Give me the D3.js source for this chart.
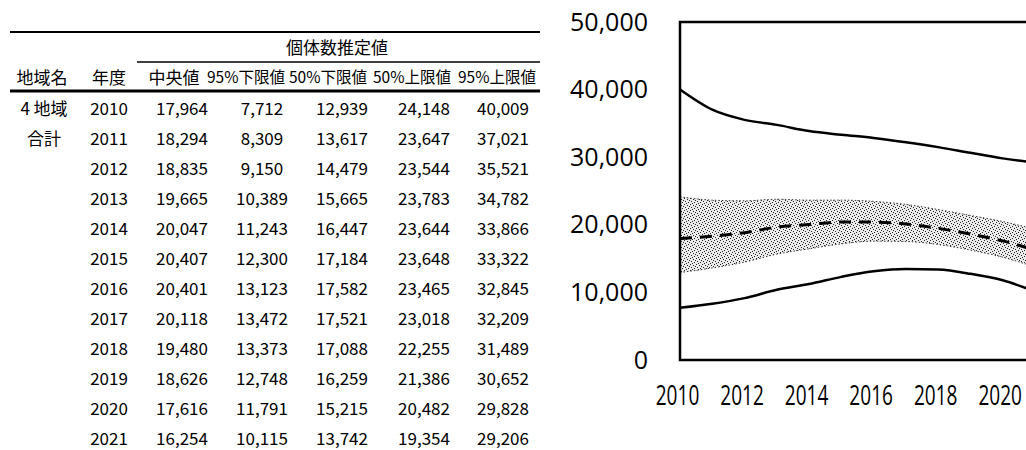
<!DOCTYPE html>
<html><head><meta charset="utf-8">
<script src="https://cdn.jsdelivr.net/npm/d3@7"></script>
<style>body{margin:0;background:#fff}svg{display:block}</style></head>
<body><svg id="c" width="1026" height="450"></svg>
<script>
const years   = [2010,2011,2012,2013,2014,2015,2016,2017,2018,2019,2020,2021];
const median  = [17964,18294,18835,19665,20047,20407,20401,20118,19480,18626,17616,16254];
const lower95 = [7712,8309,9150,10389,11243,12300,13123,13472,13373,12748,11791,10115];
const lower50 = [12939,13617,14479,15665,16447,17184,17582,17521,17088,16259,15215,13742];
const upper50 = [24148,23647,23544,23783,23644,23648,23465,23018,22255,21386,20482,19354];
const upper95 = [40009,37021,35521,34782,33866,33322,32845,32209,31489,30652,29828,29206];
const yTicks  = [0,10000,20000,30000,40000,50000];
const xTicks  = [2010,2012,2014,2016,2018,2020];
const regionLabel = ["4 地域","合計"];
const groupHeader = "個体数推定値";
const headers = ["地域名","年度","中央値","95%下限値","50%下限値","50%上限値","95%上限値"];

const svg = d3.select("#c");
const fmt = d3.format(",");
const JP = "'Noto Sans CJK JP','Noto Sans',sans-serif";

/* ---------- table ---------- */
const T = svg.append("g");
const line = (x1,x2,y,w)=>T.append("line").attr("x1",x1).attr("x2",x2).attr("y1",y).attr("y2",y)
  .attr("stroke","#000").attr("stroke-width",w);
line(10,540,32,2);
line(137,540,62,1.5);
line(10,540,91,3);

T.append("text").attr("x",337).attr("y",46).attr("text-anchor","middle").attr("dominant-baseline","central")
  .style("font-family",JP).style("font-size","17px").text(groupHeader);

const headX = [42,109,174,246,328,412,497];
T.selectAll("text.h").data(headers).join("text").attr("class","h")
  .attr("x",(d,i)=>headX[i]).attr("y",76).attr("text-anchor","middle").attr("dominant-baseline","central")
  .style("font-family",JP).style("font-size",(d,i)=>i<3?"17px":"15.5px").text(d=>d);

const rowY = d3.scaleLinear().domain([0,1]).range([107,137]);
T.selectAll("text.r").data(regionLabel).join("text").attr("class","r")
  .attr("x",44).attr("y",(d,i)=>rowY(i)).attr("text-anchor","middle").attr("dominant-baseline","central")
  .style("font-family",JP).style("font-size","17px").text(d=>d);

const colX = [109,182,262,342,424,503];
const cols = [years, median, lower95, lower50, upper50, upper95];
cols.forEach((arr,ci)=>{
  T.selectAll("text.c"+ci).data(arr).join("text").attr("class","c"+ci)
    .attr("x",colX[ci]).attr("y",(d,i)=>rowY(i)).attr("text-anchor","middle").attr("dominant-baseline","central")
    .style("font-family",JP).style("font-size","17px")
    .text(d=> ci===0 ? String(d) : fmt(d));
});

/* ---------- chart ---------- */
const x = d3.scaleLinear().domain([2010,2021]).range([680,1035]);
const y = d3.scaleLinear().domain([0,50000]).range([360,22]);

const defs = svg.append("defs");
const pat = defs.append("pattern").attr("id","stip").attr("patternUnits","userSpaceOnUse")
  .attr("width",6).attr("height",6);
pat.append("rect").attr("width",6).attr("height",6).attr("fill","#ececec");
[[0,0],[3,1],[1,3],[4,4],[2,5],[5,2]].forEach(p=>pat.append("rect").attr("x",p[0]).attr("y",p[1])
  .attr("width",1).attr("height",1).attr("fill","#222"));

const idx = d3.range(years.length);
const area = d3.area().x(i=>x(years[i])).y0(i=>y(lower50[i])).y1(i=>y(upper50[i])).curve(d3.curveMonotoneX);
svg.append("path").attr("d",area(idx)).attr("fill","url(#stip)");

const mk = arr => d3.line().x(i=>x(years[i])).y(i=>y(arr[i])).curve(d3.curveMonotoneX)(idx);
[lower50, upper50].forEach(a=>svg.append("path").attr("d",mk(a)).attr("fill","none")
  .attr("stroke","#333").attr("stroke-width",1).attr("stroke-dasharray","1.5,2"));
[lower95, upper95].forEach(a=>svg.append("path").attr("d",mk(a)).attr("fill","none")
  .attr("stroke","#000").attr("stroke-width",2.5));
svg.append("path").attr("d",mk(median)).attr("fill","none").attr("stroke","#000")
  .attr("stroke-width",3).attr("stroke-dasharray","12,8");

/* frame */
svg.append("rect").attr("x",x(2010)).attr("y",y(50000)).attr("width",x(2021)-x(2010)).attr("height",y(0)-y(50000))
  .attr("fill","none").attr("stroke","#000").attr("stroke-width",2.5);

/* axes labels */
const yAxis = svg.append("g").attr("transform","translate(654,0)")
  .call(d3.axisLeft(y).tickValues(yTicks).tickSize(0).tickPadding(6).tickFormat(fmt));
yAxis.select(".domain").remove();
yAxis.selectAll("text").style("font-family","'Open Sans',sans-serif").style("font-size","25px").attr("fill","#000");

const xAxis = svg.append("g").attr("transform","translate(-3,385)")
  .call(d3.axisBottom(x).tickValues(xTicks).tickSize(0).tickPadding(0).tickFormat(d3.format("d")));
xAxis.select(".domain").remove();
xAxis.selectAll("text").style("font-family","'Open Sans',sans-serif").style("font-size","28px").attr("fill","#000")
  .attr("dy","0.72em").attr("transform","scale(0.68,1)");
</script></body></html>
